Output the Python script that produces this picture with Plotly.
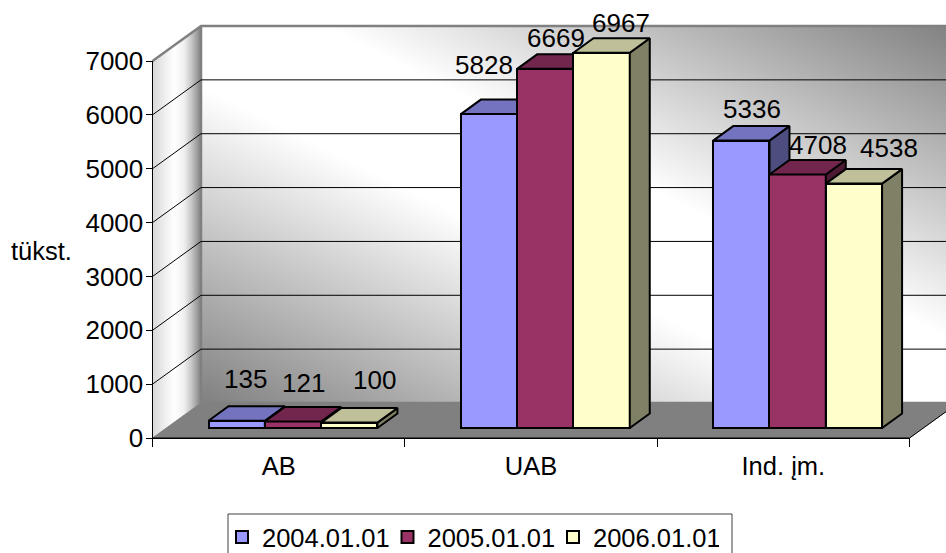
import plotly.graph_objects as go

# ---------- data ----------
categories = ["AB", "UAB", "Ind. įm."]
series_names = ["2004.01.01", "2005.01.01", "2006.01.01"]
values_2004 = [135, 5828, 5336]
values_2005 = [121, 6669, 4708]
values_2006 = [100, 6967, 4538]
y_ticks = [0, 1000, 2000, 3000, 4000, 5000, 6000, 7000]

# ---------- styles ----------
front_colors = ["#9999FF", "#993366", "#FFFFCC"]
top_colors = ["#7373BF", "#73264D", "#BFBF99"]
side_colors = ["#4D4D80", "#4D1A33", "#808066"]
FONT = "Liberation Sans, Arial, sans-serif"
FS = 26
W, H = 946, 553

# ---------- geometry (px) ----------
AX_L, AX_R = 152.5, 909.5
AX_T, AX_B = 61.0, 438.0
WALL_DX, WALL_DY = 48.5, 35.0      # depth of the whole box
BAR_DX, BAR_DY = 20.0, 14.5        # depth of a bar
BASE_DX, BASE_DY = 14.3, 10.0      # bar front plane vs. axis plane
BAR_W_PX = 56.3

px_x = (AX_R - AX_L) / 3
px_y = (AX_B - AX_T) / 7000
x_to_u = lambda px: (px - AX_L) / px_x - 0.5
y_to_v = lambda py: (AX_B - py) / px_y
dxu = lambda px: px / px_x
dyv = lambda px: px / px_y

x_range = [x_to_u(0), x_to_u(W)]
y_range = [y_to_v(H), y_to_v(0)]
xl, xr = -0.5, 2.5
wx, wy = dxu(WALL_DX), dyv(WALL_DY)

fig = go.Figure()

# back wall gradient
N = 60
wall_x0, wall_x1 = xl + wx, xr + wx
wall_y0, wall_y1 = wy, 7000 + wy
gx = [wall_x0 + (wall_x1 - wall_x0) * i / N for i in range(N + 1)]
gy = [wall_y0 + (wall_y1 - wall_y0) * j / N for j in range(N + 1)]
gz = [[((i + .5) / N + (j + .5) / N) / 2 for i in range(N)] for j in range(N)]
fig.add_trace(go.Heatmap(x=gx, y=gy, z=gz, zmin=0, zmax=1, zsmooth="best", showscale=False,
                         colorscale=[[0, "#808080"], [0.42, "#FFFFFF"], [0.58, "#FFFFFF"], [1, "#808080"]],
                         hoverinfo="skip"))

# left wall
fig.add_trace(go.Scatter(
    x=[xl, xl + wx, xl + wx, xl, xl], y=[0, wy, 7000 + wy, 7000, 0], mode="lines",
    line=dict(color="rgba(0,0,0,0)", width=0), fill="toself", showlegend=False, hoverinfo="skip",
    fillgradient=dict(type="horizontal",
                      colorscale=[[0, "#D8D8D8"], [0.45, "#FFFFFF"], [0.65, "#F0F0F0"],
                                  [0.8, "#C8C8C8"], [1, "#808080"]])))

# floor
fig.add_trace(go.Scatter(
    x=[xl, xl + wx, xr + wx, xr, xl], y=[0, wy, wy, 0, 0], mode="lines",
    line=dict(color="#808080", width=1), fill="toself", fillcolor="#808080",
    showlegend=False, hoverinfo="skip"))

# grey frame of the walls
fig.add_trace(go.Scatter(
    x=[xl, xl + wx, xr + wx, None, xl + wx, xl + wx, None, xl + wx, xr + wx],
    y=[7000, 7000 + wy, 7000 + wy, None, 7000 + wy, wy, None, wy, wy],
    mode="lines", line=dict(color="#808080", width=2.5), showlegend=False, hoverinfo="skip"))

# grid lines on left and back wall
for t in y_ticks[1:-1]:
    fig.add_trace(go.Scatter(
        x=[xl, xl + wx, xr + wx], y=[t, t + wy, t + wy], mode="lines",
        line=dict(color="#000000", width=1), showlegend=False, hoverinfo="skip"))

# floor outline
fig.add_trace(go.Scatter(
    x=[xl, xr, xr + wx], y=[0, 0, wy], mode="lines",
    line=dict(color="#000000", width=1), showlegend=False, hoverinfo="skip"))

# series: each lives on its own overlaid axes so that painter's order is left to right
bar_w = dxu(BAR_W_PX)
bdx, bdy = dxu(BAR_DX), dyv(BAR_DY)
base_u, base_v = dxu(BASE_DX), dyv(BASE_DY)
all_values = [values_2004, values_2005, values_2006]
layout_axes = {}
for s, vals in enumerate(all_values):
    xa, ya = f"x{s + 3}", f"y{s + 3}"
    layout_axes[f"xaxis{s + 3}"] = dict(overlaying="x", range=x_range, visible=False, fixedrange=True, anchor=ya)
    layout_axes[f"yaxis{s + 3}"] = dict(overlaying="y", range=y_range, visible=False, fixedrange=True, anchor=xa)
    centers = [c + base_u + (s - 1) * bar_w for c in range(3)]
    fig.add_trace(go.Bar(
        x=centers, y=vals, base=[base_v] * 3, width=bar_w, name=series_names[s], xaxis=xa, yaxis=ya,
        marker=dict(color=front_colors[s], line=dict(color="#000000", width=2)),
        hovertemplate="%{y}<extra>" + series_names[s] + "</extra>"))
    for c, v in zip(centers, vals):
        xa0, xa1 = c - bar_w / 2, c + bar_w / 2
        y0, y1 = base_v, base_v + v
        # side face
        fig.add_trace(go.Scatter(
            x=[xa1, xa1 + bdx, xa1 + bdx, xa1, xa1], y=[y0, y0 + bdy, y1 + bdy, y1, y0],
            xaxis=xa, yaxis=ya, mode="lines", fill="toself", fillcolor=side_colors[s],
            line=dict(color="#000000", width=2), showlegend=False, hoverinfo="skip"))
        # top face
        fig.add_trace(go.Scatter(
            x=[xa0, xa0 + bdx, xa1 + bdx, xa1, xa0], y=[y1, y1 + bdy, y1 + bdy, y1, y1],
            xaxis=xa, yaxis=ya, mode="lines", fill="toself", fillcolor=top_colors[s],
            line=dict(color="#000000", width=2), showlegend=False, hoverinfo="skip"))

# axes that carry tick labels
fig.add_trace(go.Scatter(x=categories, y=[0, 0, 0], xaxis="x2", yaxis="y2", mode="none",
                         showlegend=False, hoverinfo="skip"))

annotations = []
# data labels: px shift from the top-centre of each bar's front face, [category][series]
label_shift = [
    [(8.7, 42), (10.7, 38), (25.7, 42.5)],
    [(-4.8, 49), (10.7, 31), (19.7, 30)],
    [(10.7, 31.5), (20.7, 29.5), (34.7, 35.5)],
]
for s, vals in enumerate(all_values):
    for c, v in enumerate(vals):
        sx, sy = label_shift[c][s]
        annotations.append(dict(
            x=c + base_u + (s - 1) * bar_w, y=base_v + v, xref="x", yref="y", text=str(v), showarrow=False,
            xshift=sx, yshift=sy, xanchor="center", yanchor="middle",
            font=dict(family=FONT, size=FS, color="#000000")))
annotations.append(dict(x=41 / W, y=1 - 251 / H, xref="paper", yref="paper", text="tükst.",
                        showarrow=False, xanchor="center", yanchor="middle",
                        font=dict(family=FONT, size=25.5, color="#000000")))

fig.update_layout(
    width=W, height=H, autosize=False,
    margin=dict(l=0, r=0, t=0, b=0, autoexpand=False),
    paper_bgcolor="#FFFFFF", plot_bgcolor="rgba(0,0,0,0)",
    barmode="overlay", bargap=0,
    font=dict(family=FONT, size=FS, color="#000000"),
    annotations=annotations,
    shapes=[dict(type="rect", xref="paper", yref="paper", x0=228 / W, x1=732 / W,
                 y0=-10 / H, y1=1 - 514 / H, line=dict(color="#404040", width=1),
                 fillcolor="#FFFFFF", layer="below")],
    xaxis=dict(domain=[0, 1], range=x_range, visible=False, fixedrange=True),
    yaxis=dict(domain=[0, 1], range=y_range, visible=False, fixedrange=True),
    xaxis2=dict(domain=[AX_L / W, AX_R / W], anchor="y2", type="category", categoryorder="array",
                categoryarray=categories, range=[-0.5, 2.5], tickson="boundaries",
                ticks="outside", ticklen=8, tickcolor="#000000", tickwidth=1,
                showline=True, linecolor="#000000", linewidth=1, showgrid=False, zeroline=False,
                ticklabelstandoff=5,
                tickfont=dict(family=FONT, size=25.5), fixedrange=True),
    yaxis2=dict(domain=[1 - AX_B / H, 1 - AX_T / H], anchor="x2", range=[0, 7000], tickvals=y_ticks,
                ticks="outside", ticklen=6, tickcolor="#000000", tickwidth=1,
                showline=True, linecolor="#000000", linewidth=1, showgrid=False, zeroline=False,
                ticklabelstandoff=-3,
                tickfont=dict(family=FONT, size=FS), fixedrange=True),
    showlegend=True,
    legend=dict(orientation="h", x=222 / W, y=1 - 514 / H, xanchor="left", yanchor="top",
                bgcolor="rgba(0,0,0,0)", borderwidth=0, entrywidth=120.5, entrywidthmode="pixels",
                font=dict(family=FONT, size=25.5, color="#000000")),
    **layout_axes,
)

fig.write_html("out.html", config={"displayModeBar": False},
               post_script="document.body.style.margin='0';")
